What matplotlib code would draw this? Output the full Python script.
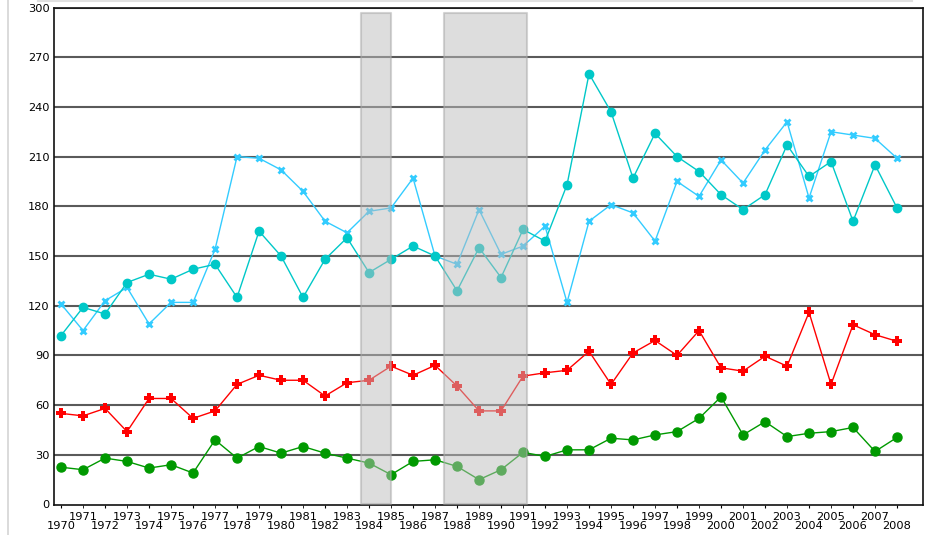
import matplotlib
matplotlib.use("Agg")
import matplotlib.pyplot as plt
from matplotlib.lines import Line2D

years = list(range(1970, 2009))

# light blue series, x markers
series_x = [121, 105, 123, 131, 109, 122, 122, 154, 210, 209, 202, 189, 171, 164,
            177, 179, 197, 150, 145, 178, 151, 156, 168, 122, 171, 181, 176, 159,
            195, 186, 208, 194, 214, 231, 185, 225, 223, 221, 209]
# teal series, round markers
series_teal = [102, 119, 115, 134, 139, 136, 142, 145, 125, 165, 150, 125, 148, 161,
               140, 148, 156, 150, 129, 155, 137, 166, 159, 193, 260, 237, 197, 224,
               210, 201, 187, 178, 187, 217, 198, 207, 171, 205, 179]
# red series, plus markers
series_red = [55, 53.5, 58, 44, 64, 64, 52, 56.5, 72.5, 78, 75, 75, 65.5, 73.5,
              75, 83.5, 78, 84, 71.5, 56.5, 56.5, 77.5, 79.5, 81, 92.5, 72.5, 91.5, 99,
              90, 105, 82.5, 80.5, 89.5, 83.5, 116, 72.5, 108.5, 102.5, 98.5]
# green series, round markers
series_green = [22.5, 21, 28, 26, 22, 24, 19, 39, 28, 35, 31, 35, 31, 28,
                25, 18, 26, 27, 23, 15, 21, 31.5, 29, 33, 33, 40, 39, 42,
                44, 52, 65, 42, 50, 41, 43, 44, 46.5, 32, 40.5]

shaded = [(1983.62, 1985.0), (1987.42, 1991.17)]
shade_top = 296.5

yticks = list(range(0, 301, 30))

W, H = 930, 535
fig = plt.figure(figsize=(W / 100, H / 100), dpi=100)
ax = fig.add_axes([54 / W, 1 - 504.5 / H, (923 - 54) / W, (504.5 - 7.5) / H])

for y in yticks[1:]:
    ax.axhline(y, color="#5a5a5a", lw=1.5, zorder=1)

ax.plot(years, series_x, color="#33ccff", lw=1, marker="x", ms=5, mew=2, zorder=2)
ax.plot(years, series_teal, color="#00c8c8", lw=1, marker="o", ms=6, zorder=2)
ax.plot(years, series_red, color="#ff0000", lw=1, marker="P", ms=6.5, mew=0, zorder=2)
ax.plot(years, series_green, color="#009900", lw=1, marker="o", ms=6.5, zorder=2)

for a, b in shaded:
    ax.fill_between([a, b], 0, shade_top, facecolor="#bcbcbc", edgecolor="#a8a8a8",
                    lw=1.5, alpha=0.5, zorder=3)

ax.set_xlim(1969.68, 2009.18)
ax.set_ylim(0, 300)
ax.set_yticks(yticks)
ax.tick_params(axis="y", length=0, pad=3, labelsize=8.2)

ax.set_xticks([y for y in years if y % 2 == 0])
ax.set_xticks([y for y in years if y % 2 == 1], minor=True)
ax.set_xticklabels([str(y) for y in years if y % 2 == 0])
ax.set_xticklabels([str(y) for y in years if y % 2 == 1], minor=True)
ax.tick_params(axis="x", which="major", length=2.5, pad=9.5, labelsize=8.2)
ax.tick_params(axis="x", which="minor", length=2.5, pad=2.6, labelsize=8.2)

for s in ax.spines.values():
    s.set_color("#111111")
    s.set_linewidth(1.2)

# light frame lines of the page
fig.add_artist(Line2D([8 / W, 8 / W], [0, 1], color="#d4d4d4", lw=1.2))
fig.add_artist(Line2D([38 / W, 912 / W], [1 - 1 / H, 1 - 1 / H], color="#e0e0e0", lw=1.5))
# title sits above the visible area; only a descender shows
fig.text(186 / W, 1 + 4 / H, "y", color="red", fontsize=13, fontweight="bold",
         fontstyle="italic", va="baseline", ha="left")

fig.savefig("out.png", dpi=100)
